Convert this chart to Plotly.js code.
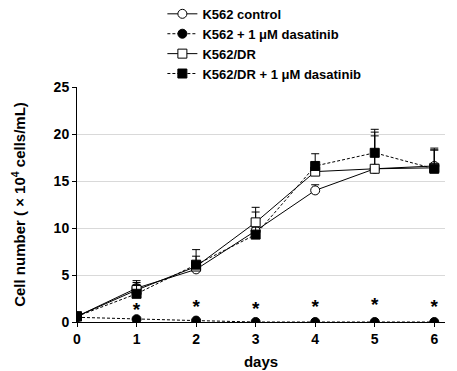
<!DOCTYPE html>
<html><head><meta charset="utf-8">
<script src="https://cdn.plot.ly/plotly-3.0.1.min.js"></script>
<style>body{margin:0;padding:0;background:#fff}#c{width:457px;height:371px}</style>
</head><body><div id="c"></div>
<script>
const days = [0, 1, 2, 3, 4, 5, 6];
const seriesNames = ["K562 control", "K562 + 1 μM dasatinib", "K562/DR", "K562/DR + 1 μM dasatinib"];
const k562Control = [0.6, 3.6, 5.6, 9.7, 14.0, 16.3, 16.6];
const k562ControlErr = [0.1, 0.8, 0.7, 2.0, 0.6, 3.5, 1.7];
const k562Dasatinib = [0.5, 0.3, 0.15, 0.0, 0.0, 0.0, 0.0];
const k562DasatinibErr = [0.05, 0.1, 0.05, 0, 0, 0, 0];
const k562DR = [0.6, 3.4, 5.9, 10.6, 16.0, 16.3, 16.4];
const k562DRErr = [0.1, 0.8, 1.1, 1.6, 0.5, 3.9, 1.9];
const k562DRDasatinib = [0.6, 3.0, 6.1, 9.3, 16.6, 18.0, 16.3];
const k562DRDasatinibErr = [0.1, 1.0, 1.6, 0.8, 1.3, 2.5, 2.2];
const starDays = [1, 2, 3, 4, 5, 6];
const starY = [1.1, 1.5, 1.2, 1.5, 1.7, 1.5];
const yTicks = [0, 5, 10, 15, 20, 25];

function err(a){return {type:'data', symmetric:false, array:a, arrayminus:a.map(()=>0), color:'#000', thickness:1, width:4};}
const mk = (sym, fill) => ({symbol: sym, size: 9, color: fill, line: {color: '#000', width: 1}});
const dash = '3px,2px';

const traces = [
  {x: days, y: k562Control, name: seriesNames[0], mode: 'lines+markers', line: {color: '#000', width: 1}, marker: mk('circle', '#fff'), error_y: err(k562ControlErr)},
  {x: days, y: k562Dasatinib, name: seriesNames[1], mode: 'lines+markers', line: {color: '#000', width: 1, dash: dash}, marker: mk('circle', '#000'), error_y: err(k562DasatinibErr)},
  {x: days, y: k562DR, name: seriesNames[2], mode: 'lines+markers', line: {color: '#000', width: 1}, marker: mk('square', '#fff'), error_y: err(k562DRErr)},
  {x: days, y: k562DRDasatinib, name: seriesNames[3], mode: 'lines+markers', line: {color: '#000', width: 1, dash: dash}, marker: mk('square', '#000'), error_y: err(k562DRDasatinibErr)},
  {x: starDays, y: starY, mode: 'text', text: starDays.map(()=>'<b>*</b>'), textfont: {family: 'Arial, Liberation Sans', size: 19, color: '#000'}, showlegend: false, hoverinfo: 'skip', cliponaxis: false}
];

const layout = {
  width: 457, height: 371,
  margin: {l: 77, r: 12, t: 87, b: 49, autoexpand: false},
  paper_bgcolor: '#fff', plot_bgcolor: '#fff',
  font: {family: 'Arial, Liberation Sans, sans-serif', color: '#000', size: 14},
  showlegend: true,
  legend: {x: 0.232, xanchor: 'left', y: 1.375, yanchor: 'top', font: {size: 13, weight: 'bold'}, bgcolor: 'rgba(0,0,0,0)', tracegroupgap: 0, itemwidth: 30},
  xaxis: {
    range: [0, 6.18], tickvals: days, ticktext: days.map(String),
    showgrid: false, zeroline: false, showline: true, linecolor: '#000', linewidth: 1,
    ticks: 'outside', ticklen: 4, tickcolor: '#000',
    tickfont: {size: 14, weight: 'bold'},
    title: {text: 'days', font: {size: 15, weight: 'bold'}, standoff: 10}
  },
  yaxis: {
    range: [0, 25], tickvals: yTicks, ticktext: yTicks.map(String),
    showgrid: true, gridcolor: '#d9d9d9', gridwidth: 1, zeroline: false,
    showline: true, linecolor: '#000', linewidth: 1,
    ticks: 'outside', ticklen: 4, tickcolor: '#000',
    tickfont: {size: 14, weight: 'bold'},
    title: {text: 'Cell number ( × 10<sup>4</sup> cells/mL)', font: {size: 15, weight: 'bold'}, standoff: 24}
  }
};
Plotly.newPlot('c', traces, layout, {displayModeBar: false, staticPlot: true});
</script></body></html>
